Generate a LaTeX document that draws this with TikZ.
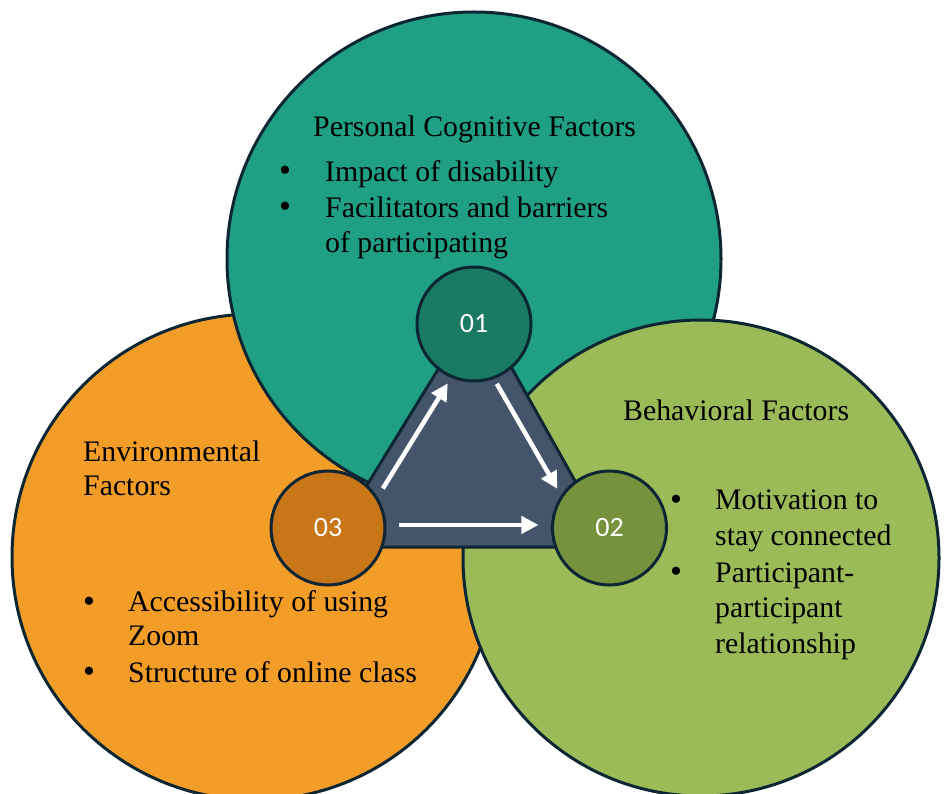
\documentclass[tikz,border=0pt]{standalone}
\usepackage{fontspec}
\setmainfont{Liberation Serif}
\newfontfamily\numfont{Carlito}
\usetikzlibrary{arrows.meta}
\definecolor{tealbig}{RGB}{31,160,133}
\definecolor{tealsmall}{RGB}{26,122,99}
\definecolor{orangebig}{RGB}{243,157,41}
\definecolor{orangesmall}{RGB}{200,118,24}
\definecolor{greenbig}{RGB}{155,187,89}
\definecolor{greensmall}{RGB}{118,146,60}
\definecolor{slate}{RGB}{68,84,106}
\definecolor{edge}{RGB}{12,38,52}
\tikzset{
  bigdisc/.style={circle, draw=edge, line width=3pt, inner sep=0pt},
  smalldisc/.style={circle, draw=edge, line width=3pt, inner sep=0pt,
    minimum size=114pt, text=white, font=\numfont\fontsize{28}{28}\selectfont},
  % multi-line blocks are placed by the baseline of their last line
  body/.style={anchor=base west, align=left, inner sep=0pt, text=black,
    font=\fontsize{29.8}{35.5}\selectfont},
  bul/.style={anchor=base, inner sep=0pt, font=\fontsize{34}{34}\selectfont},
  flow/.style={draw=white, line width=4.5pt,
    -{Triangle[length=17pt,width=17pt]}},
}
\begin{document}
\begin{tikzpicture}[x=1pt,y=-1pt]
\fill[white] (0,0) rectangle (945,794);
\useasboundingbox (0,0) rectangle (945,794);

% three overlapping factor discs
\node[bigdisc, fill=orangebig, minimum size=486pt] (env) at (255,557) {};
\node[bigdisc, fill=tealbig, minimum size=494pt] (pers) at (474,259) {};
\node[bigdisc, fill=greenbig, minimum size=476pt] (beh) at (701,558) {};

% central triangle
\draw[edge, fill=slate, line width=3pt, rounded corners=12pt]
  (329,547) -- (612,547) -- (477,306) -- cycle;

% numbered hubs
\node[smalldisc, fill=tealsmall] (c01) at (474,324) {01};
\node[smalldisc, fill=greensmall] (c02) at (609.5,528) {02};
\node[smalldisc, fill=orangesmall] (c03) at (328,528) {03};

% flow arrows
\draw[flow, shorten <=10pt, shorten >=6.5pt] (c03.32) -- (c01.247);
\draw[flow, shorten <=5.6pt, shorten >=7.4pt] (c01.290) -- (c02.146);
\draw[flow, shorten <=13pt, shorten >=12.6pt] (c03.3) -- (c02.177);

% personal cognitive factors
\node[body] (ptitle) at (313,137) {Personal Cognitive Factors};
\node[bul] (pb1) at (285,182) {•};
\node[body] (pi1) at (325,182) {Impact of disability};
\node[bul] (pb2) at (285,218) {•};
\node[body] (pi2) at (325,253) {Facilitators and barriers\\of participating};

% behavioral factors
\node[body] (btitle) at (623,420) {Behavioral Factors};
\node[bul] (bb1) at (676,510) {•};
\node[body] (bi1) at (715,545) {Motivation to\\stay connected};
\node[bul] (bb2) at (676,582) {•};
\node[body] (bi2) at (715,653) {Participant-\\participant\\relationship};

% environmental factors
\node[body, font=\fontsize{29.8}{34}\selectfont] (etitle) at (83,495) {Environmental\\Factors};
\node[bul] (eb1) at (89,612) {•};
\node[body, font=\fontsize{29.8}{33.5}\selectfont] (ei1) at (128,645) {Accessibility of using\\Zoom};
\node[bul] (eb2) at (89,682) {•};
\node[body] (ei2) at (128,682) {Structure of online class};
\end{tikzpicture}
\end{document}
